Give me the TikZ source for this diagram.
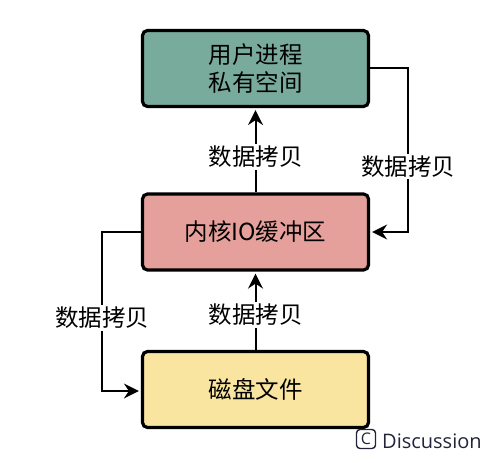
\documentclass[tikz,border=0pt]{standalone}
\usepackage{fontspec}
\setmainfont{Noto Sans CJK SC}
\newfontfamily\latinsans{Open Sans}
\usetikzlibrary{arrows.meta}
\definecolor{usergreen}{HTML}{79AB9D}
\definecolor{kernelred}{HTML}{E6A09B}
\definecolor{diskyellow}{HTML}{FAE5A0}
\definecolor{marknavy}{HTML}{23243A}
\tikzset{
  box/.style={draw=black, line width=3.2pt, rounded corners=5pt, minimum width=226pt, minimum height=76pt, align=center, font=\fontsize{23.5}{28}\selectfont},
  conn/.style={line width=2pt, -{Stealth[length=15pt,width=15pt,inset=5pt]}, shorten >=2pt},
  lbl/.style={fill=white, inner sep=2pt, font=\fontsize{23.5}{26}\selectfont}
}
\begin{document}
\begin{tikzpicture}[x=1pt,y=-1pt]
\useasboundingbox (0,0) rectangle (502,462);
\node[box, fill=usergreen] (user) at (255.5,68.5) {用户进程\\私有空间};
\node[box, fill=kernelred] (kernel) at (255.5,232) {内核IO缓冲区};
\node[box, fill=diskyellow] (disk) at (255.5,389.5) {磁盘文件};
\coordinate (r1) at (408,68.5);
\coordinate (r2) at (408,232);
\coordinate (l1) at (102,232);
\coordinate (l2) at (102,391);
\draw[conn] (kernel.north) -- node[lbl, pos=0.42] {数据拷贝} (user.south);
\draw[conn] (disk.north) -- node[lbl, pos=0.45] {数据拷贝} (kernel.south);
\draw[conn] (user.east) -- (r1) -- node[lbl, pos=0.6] {数据拷贝} (r2) -- (kernel.east);
\draw[conn] (kernel.west) -- (l1) -- node[lbl, pos=0.54] {数据拷贝} (l2) -- (disk.west |- l2);
\node[draw=marknavy, line width=1.4pt, rounded corners=3.5pt, minimum size=19pt, inner sep=0pt, text=marknavy, font=\latinsans\fontsize{16}{16}\selectfont] (cmark) at (366,439) {C};
\node[anchor=west, text=marknavy, font=\latinsans\fontsize{20}{20}\selectfont, inner sep=0pt] (disc) at (382,441) {Discussion};
\end{tikzpicture}
\end{document}
